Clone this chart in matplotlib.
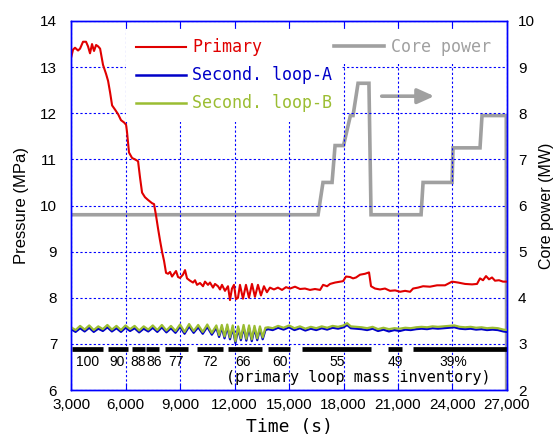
import numpy as np
import matplotlib
matplotlib.use("Agg")
import matplotlib.pyplot as plt
from matplotlib.lines import Line2D

# primary loop pressure (MPa)
prim_t = [3000, 3110, 3220, 3385, 3495, 3660, 3825, 3935, 4045, 4155, 4265, 4380, 4490, 4600,
          4760, 4930, 5040, 5150, 5260, 5420, 5590, 5750, 5920, 6030, 6080, 6190, 6360, 6520,
          6690, 6800, 6910, 7070, 7240, 7460, 7570, 7680, 7790, 7900, 8010, 8120, 8230, 8340,
          8450, 8560, 8670, 8780, 8890, 9000, 9160, 9275, 9385, 9550, 9715, 9825, 9935, 10100,
          10265, 10375, 10540, 10650, 10815, 10925, 11090, 11200, 11310, 11475, 11640, 11750,
          11860, 11970, 12080, 12190, 12300, 12465, 12630, 12795, 12960, 13125, 13290, 13455,
          13620, 13785, 13950, 14170, 14390, 14615, 14835, 15055, 15330, 15605, 15880, 16155,
          16430, 16710, 16875, 17095, 17260, 17535, 17810, 17975, 18140, 18360, 18525, 18690,
          18910, 19185, 19405, 19515, 19735, 20010, 20285, 20560, 20840, 21115, 21390, 21665,
          21830, 22100, 22380, 22760, 23150, 23590, 23975, 24305, 24690, 25075, 25350, 25515,
          25680, 25845, 26010, 26175, 26340, 26560, 26780, 26950]
prim_p = [13.20, 13.38, 13.42, 13.36, 13.40, 13.55, 13.55, 13.45, 13.30, 13.50, 13.35, 13.48, 13.45, 13.40,
          13.05, 12.85, 12.70, 12.45, 12.17, 12.08, 11.98, 11.85, 11.80, 11.75, 11.60, 11.15, 11.03, 11.00,
          10.96, 10.60, 10.28, 10.18, 10.12, 10.05, 10.03, 9.78, 9.50, 9.24, 9.00, 8.80, 8.54, 8.52,
          8.56, 8.46, 8.52, 8.58, 8.45, 8.43, 8.50, 8.60, 8.42, 8.37, 8.33, 8.38, 8.28, 8.32,
          8.25, 8.35, 8.28, 8.33, 8.22, 8.30, 8.25, 8.18, 8.28, 8.15, 8.25, 7.95,
          8.20, 8.28, 7.97, 8.00, 8.28, 7.98, 8.28, 8.00, 8.30, 8.02, 8.28, 8.05,
          8.25, 8.12, 8.22, 8.18, 8.22, 8.17, 8.23, 8.20, 8.24, 8.19, 8.20, 8.17,
          8.19, 8.17, 8.28, 8.25, 8.30, 8.33, 8.35, 8.36, 8.46, 8.45, 8.42, 8.44,
          8.50, 8.52, 8.55, 8.25, 8.20, 8.18, 8.20, 8.15, 8.16, 8.13, 8.15, 8.13,
          8.20, 8.22, 8.25, 8.24, 8.27, 8.27, 8.35, 8.33, 8.30, 8.29, 8.30, 8.42,
          8.38, 8.47, 8.40, 8.44, 8.37, 8.38, 8.35, 8.35]

# secondary loops (MPa)
sec_t = [3000, 3250, 3500, 3750, 4000, 4250, 4500, 4750, 5000, 5250, 5500, 5750, 6000, 6250,
         6500, 6750, 7000, 7250, 7500, 7750, 8000, 8250, 8500, 8750, 9000, 9250, 9500, 9750,
         10000, 10250, 10500, 10750, 11000,
         11150, 11300, 11450, 11600, 11750, 11900, 12050, 12200, 12350, 12500, 12650, 12800,
         12950, 13100, 13250, 13400, 13550, 13700,
         13850, 14100, 14400, 14700, 15000, 15300, 15600, 15900, 16200, 16500, 16800, 17100,
         17400, 17700, 18000, 18200, 18400, 18700, 19000, 19300, 19600, 19900, 20200, 20500,
         20800, 21100, 21400, 21700, 22000, 22300, 22600, 22900, 23200, 23500, 23800, 24100,
         24400, 24700, 25000, 25300, 25600, 25900, 26200, 26500, 26800, 27000]
loop_a = [7.32, 7.26, 7.34, 7.27, 7.35, 7.26, 7.33, 7.28, 7.36, 7.27, 7.34, 7.26, 7.35, 7.28,
          7.34, 7.25, 7.33, 7.27, 7.35, 7.26, 7.36, 7.25, 7.34, 7.24, 7.37, 7.22, 7.38, 7.24,
          7.36, 7.22, 7.37, 7.20, 7.35,
          7.15, 7.36, 7.12, 7.37, 7.10, 7.35, 7.02, 7.33, 7.08, 7.36, 7.07, 7.35,
          7.06, 7.34, 7.08, 7.33, 7.10, 7.30,
          7.32, 7.30, 7.35, 7.31, 7.36, 7.30, 7.34, 7.29, 7.33, 7.30, 7.34, 7.31,
          7.35, 7.33, 7.36, 7.41, 7.34, 7.33, 7.32, 7.30, 7.33, 7.28, 7.31, 7.27,
          7.30, 7.28, 7.31, 7.30, 7.32, 7.33, 7.32, 7.34, 7.33, 7.34, 7.35, 7.36,
          7.33, 7.32, 7.33, 7.31, 7.32, 7.30, 7.31, 7.30, 7.27, 7.26]
loop_b = [7.36, 7.30, 7.39, 7.31, 7.40, 7.30, 7.38, 7.32, 7.41, 7.31, 7.39, 7.30, 7.40, 7.32,
          7.39, 7.29, 7.38, 7.31, 7.40, 7.30, 7.41, 7.29, 7.39, 7.28, 7.42, 7.26, 7.43, 7.28,
          7.41, 7.26, 7.42, 7.24, 7.40,
          7.19, 7.41, 7.16, 7.42, 7.14, 7.40, 7.06, 7.38, 7.12, 7.41, 7.11, 7.40,
          7.10, 7.39, 7.12, 7.38, 7.14, 7.35,
          7.36, 7.34, 7.39, 7.35, 7.40, 7.34, 7.38, 7.33, 7.37, 7.34, 7.38, 7.35,
          7.39, 7.37, 7.40, 7.45, 7.38, 7.37, 7.36, 7.34, 7.37, 7.32, 7.35, 7.32,
          7.34, 7.33, 7.35, 7.34, 7.36, 7.37, 7.36, 7.38, 7.37, 7.38, 7.39, 7.40,
          7.37, 7.36, 7.37, 7.35, 7.36, 7.34, 7.35, 7.34, 7.31, 7.30]

# core power (MW)
core_t = [3000, 16600, 16870, 17370, 17535, 18000, 18380, 18525, 18800, 19400, 19515,
          22270, 22380, 23975, 24030, 25515, 25625, 26960, 26990]
core_p = [5.8, 5.8, 6.5, 6.5, 7.3, 7.3, 7.95, 7.95, 8.65, 8.65, 5.8,
          5.8, 6.5, 6.5, 7.25, 7.25, 7.95, 7.95, 0.0]

# primary loop mass inventory phases
inv_start = [3055, 5040, 6360, 7130, 8175, 9935, 11640, 13845, 15715, 20450, 21830]
inv_end = [4760, 6140, 7070, 7845, 9440, 11370, 13515, 15055, 19515, 21220, 27000]
inv_labels = ["100", "90", "88", "86", "77", "72", "66", "60", "55", "49", "39%"]
inv_label_t = [3935, 5560, 6670, 7560, 8775, 10650, 12470, 14500, 17640, 20835, 24030]

xticks = [3000, 6000, 9000, 12000, 15000, 18000, 21000, 24000, 27000]

red = "#e00000"
blue = "#0000c8"
green = "#9bbd32"
gray = "#a0a0a0"
gridblue = "#0000ff"
mono = "DejaVu Sans Mono"
sans = "Liberation Sans"

fig = plt.figure(figsize=(5.55, 4.42), dpi=100)
ax = fig.add_axes([0.128, 0.1176, 0.7855, 0.8349])
ax2 = ax.twinx()

# pressures on top of the power trace
ax.set_zorder(ax2.get_zorder() + 1)
ax.patch.set_visible(False)

ax2.plot(core_t, core_p, color=gray, lw=2.6, solid_joinstyle="miter")
ax2.set_ylim(2, 10)
ax2.annotate("", xy=(23150, 8.37), xytext=(19950, 8.37),
             arrowprops=dict(arrowstyle="-|>,head_length=1.0,head_width=0.45",
                             color=gray, lw=2.6))

ax.plot(prim_t, prim_p, color=red, lw=1.5)
ax.plot(sec_t, loop_a, color=blue, lw=1.6)
ax.plot(sec_t, loop_b, color=green, lw=1.6)

ax.hlines([6.89] * len(inv_start), inv_start, inv_end, color="black", lw=3.4)
for lab, t in zip(inv_labels, inv_label_t):
    ax.text(t, 6.6, lab, ha="center", va="center", fontsize=10, family=sans)
ax.text(18800, 6.28, "(primary loop mass inventory)", ha="center", va="center",
        fontsize=11, family=mono)

ax.set_xlim(3000, 27000)
ax.set_ylim(6, 14)
ax.set_xticks(xticks)
ax.set_xticklabels([f"{v:,}" for v in xticks])
ax.set_yticks(range(6, 15))
ax2.set_yticks(range(2, 11))

ax.grid(True, color=gridblue, ls=(0, (2, 2)), lw=0.8)
ax.tick_params(axis="x", direction="in", top=True, length=5, color=gridblue, pad=6)
ax.tick_params(axis="y", length=0, pad=10)
ax2.tick_params(axis="y", length=0, pad=8)
for lab in ax.get_xticklabels() + ax.get_yticklabels() + ax2.get_yticklabels():
    lab.set_fontfamily(sans)
    lab.set_fontsize(11)
for a in (ax, ax2):
    for s in a.spines.values():
        s.set_color(gridblue)
        s.set_linewidth(1.0)

ax.set_xlabel("Time (s)", family=mono, fontsize=13, labelpad=4)
ax.set_ylabel("Pressure (MPa)", family=sans, fontsize=12, labelpad=8)
ax2.set_ylabel("Core power (MW)", family=sans, fontsize=11.5, labelpad=3)

h1 = [Line2D([], [], color=red, lw=1.5), Line2D([], [], color=blue, lw=1.8),
      Line2D([], [], color=green, lw=1.8)]
leg1 = ax.legend(h1, ["Primary", "Second. loop-A", "Second. loop-B"],
                 loc="upper left", bbox_to_anchor=(0.108, 1.0), frameon=True,
                 framealpha=1, edgecolor="none", fancybox=False,
                 prop=dict(family=mono, size=12), handlelength=3.0,
                 handletextpad=0.4, labelspacing=0.6, borderpad=0.55)
for txt, c in zip(leg1.get_texts(), [red, blue, green]):
    txt.set_color(c)
ax.add_artist(leg1)

leg2 = ax.legend([Line2D([], [], color=gray, lw=2.6)], ["Core power"],
                 loc="upper left", bbox_to_anchor=(0.565, 1.0), frameon=True,
                 framealpha=1, edgecolor="none", fancybox=False,
                 prop=dict(family=mono, size=12), handlelength=3.0,
                 handletextpad=0.4, borderpad=0.5)
leg2.get_texts()[0].set_color(gray)

fig.savefig("out.png", dpi=100)
